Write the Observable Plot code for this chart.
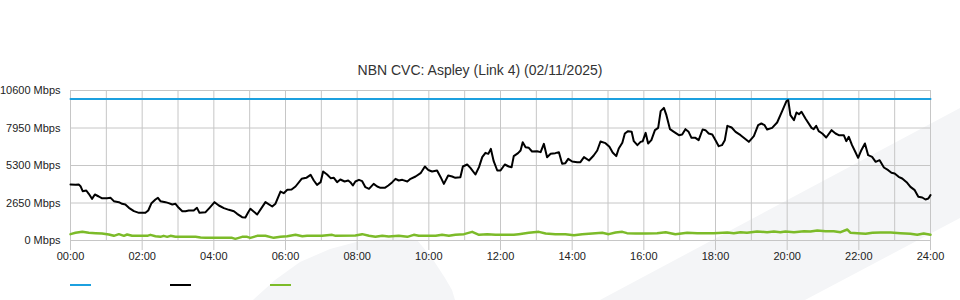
<!DOCTYPE html>
<html>
<head>
<meta charset="utf-8">
<script src="https://cdn.jsdelivr.net/npm/d3@7"></script>
<script src="https://cdn.jsdelivr.net/npm/@observablehq/plot@0.6"></script>
<style>
  html, body { margin: 0; padding: 0; background: #fff; }
  #wrap { position: relative; width: 960px; height: 300px; overflow: hidden; font-family: "Liberation Sans", Arial, sans-serif; }
  .wm { position: absolute; left: 0; top: 0; width: 960px; height: 300px; background: #f4f5f7; }
  #wm1 { clip-path: polygon(600px 300px, 960px 108px, 960px 218px, 805px 300px); }
  #wm2 { clip-path: polygon(253px 300px, 275px 280px, 300px 262px, 330px 249px, 360px 241px, 395px 238px, 417px 240px, 432px 258px, 445px 278px, 452px 290px, 455px 300px); }
  #title { position: absolute; left: 0; top: 62px; width: 960px; text-align: center; font-size: 14px; line-height: 16px; color: #333; }
  #chart { position: absolute; left: 0; top: 80px; }
  #legend { position: absolute; left: 0; top: 284px; width: 960px; height: 4px; }
  .sw { position: absolute; top: 0; width: 21px; height: 2px; }
</style>
</head>
<body>
<div id="wrap">
  <div class="wm" id="wm1"></div>
  <div class="wm" id="wm2"></div>
  <div id="title"></div>
  <div id="chart"></div>
  <div id="legend"></div>
</div>
<script>
const titleText = "NBN CVC: Aspley (Link 4) (02/11/2025)";

// y axis ticks (Mbps)
const yTicks = [0, 2650, 5300, 7950, 10600];
// x axis ticks (hours) and labels
const xTickHours = [0, 2, 4, 6, 8, 10, 12, 14, 16, 18, 20, 22, 24];
const xTickLabels = ["00:00","02:00","04:00","06:00","08:00","10:00","12:00","14:00","16:00","18:00","20:00","22:00","24:00"];

// series colours
const seriesColors = ["#1ca0df", "#000000", "#7cbb29"];

// Capacity (blue)
const capHours = [0, 24];
const capMbps = [10000, 10000];

// Traffic (black)
const blackHours = [
  0.00,0.14,0.23,0.28,0.34,0.44,0.51,0.60,0.68,0.79,0.87,1.02,1.12,1.21,1.35,1.44,1.53,1.63,1.77,1.91,
  2.09,2.17,2.26,2.37,2.44,2.51,2.65,2.74,2.84,2.93,3.02,3.12,3.21,3.30,3.44,3.53,3.60,3.77,3.88,4.02,
  4.14,4.28,4.42,4.56,4.65,4.79,4.88,4.96,5.02,5.21,5.44,5.63,5.72,5.86,5.95,6.05,6.17,6.28,6.45,6.58,
  6.70,6.79,6.88,6.98,7.05,7.16,7.26,7.35,7.44,7.53,7.65,7.75,7.81,7.88,7.95,8.05,8.14,8.23,8.33,8.46,
  8.56,8.65,8.77,8.87,8.98,9.07,9.16,9.26,9.40,9.49,9.63,9.77,9.89,9.98,10.02,10.09,10.23,10.33,10.42,10.54,
  10.65,10.74,10.88,10.95,11.07,11.16,11.30,11.40,11.49,11.58,11.66,11.73,11.81,11.91,12.00,12.12,12.23,12.31,12.37,12.49,
  12.56,12.62,12.70,12.79,12.88,13.02,13.12,13.21,13.30,13.40,13.53,13.63,13.72,13.81,13.89,14.00,14.14,14.23,14.33,14.47,
  14.60,14.70,14.79,14.93,15.04,15.13,15.23,15.30,15.40,15.47,15.56,15.66,15.72,15.82,15.91,15.97,16.05,16.12,16.21,16.31,
  16.40,16.47,16.56,16.63,16.73,16.84,16.98,17.07,17.16,17.25,17.33,17.44,17.53,17.64,17.72,17.81,17.91,18.00,18.09,18.18,
  18.26,18.33,18.45,18.56,18.70,18.93,19.07,19.19,19.28,19.37,19.44,19.58,19.72,19.86,19.98,20.03,20.09,20.19,20.26,20.33,
  20.40,20.51,20.68,20.74,20.81,20.88,20.98,21.09,21.24,21.35,21.44,21.58,21.65,21.72,21.81,21.91,21.98,22.07,22.17,22.26,
  22.37,22.47,22.58,22.70,22.82,22.91,23.00,23.11,23.21,23.35,23.44,23.56,23.66,23.77,23.86,23.94,24.00
];
const blackMbps = [
  3957,3934,3957,3840,3486,3533,3298,2945,3251,3109,2992,2992,3015,2779,2709,2591,2544,2309,2073,1955,
  1955,2120,2638,2897,3015,2779,2709,2638,2544,2591,2309,2073,2073,2120,2120,2309,1955,2002,2309,2709,
  2473,2285,2167,2073,1885,1649,1620,2002,2238,1837,2709,2403,2600,3460,3345,3580,3604,3816,4357,4428,
  4640,4240,3934,4122,4876,4664,4405,4428,4122,4311,4169,4240,4122,3887,4169,4287,4193,3769,3651,4004,
  3816,3722,3722,3887,4122,4357,4240,4287,4169,4357,4523,4758,5229,4994,4947,4876,4947,4476,4004,4593,
  4523,4428,4476,5229,5371,5135,4664,5182,5889,6195,6124,6478,5607,4947,4947,5371,5229,5182,5960,6172,
  6360,6949,6596,6549,6290,6313,6243,6831,5889,6124,6172,6243,5418,5465,5771,5583,5536,5536,5889,5653,
  6007,6360,6996,6879,6619,6219,5960,6501,6902,7561,7726,7679,7019,6737,6972,7019,7608,6855,7090,7797,
  7961,9139,9374,8857,7867,7679,7443,7491,7867,7679,7255,7255,7090,7844,7797,7561,7491,7090,6666,6737,
  7090,8104,7985,7679,7443,6972,7373,8151,8268,8151,7844,7961,8339,9139,9846,9916,8857,8504,9045,8927,
  9092,8621,7961,7867,8104,7726,7561,7279,7797,7561,7443,7443,7019,7326,6737,6219,5842,6384,6855,6030,
  5913,5559,5677,5159,4970,4782,4735,4499,4381,4075,3792,3557,3086,3039,2897,2968,3204
];

// Traffic (green)
const greenHours = [
  0.00,0.14,0.33,0.51,0.70,0.88,1.07,1.21,1.35,1.49,1.58,1.72,1.86,2.14,2.23,2.37,2.51,2.60,2.70,2.79,
  2.93,3.12,3.49,3.63,3.77,4.05,4.51,4.60,4.79,4.93,5.02,5.21,5.44,5.67,5.86,6.05,6.28,6.47,6.60,6.79,
  7.02,7.30,7.40,7.95,8.14,8.33,8.51,8.70,8.88,9.16,9.40,9.58,9.72,9.95,10.19,10.37,10.56,10.74,10.98,11.21,
  11.40,11.63,11.86,12.14,12.37,12.51,12.79,13.07,13.26,13.53,13.81,14.05,14.28,14.56,14.84,15.02,15.21,15.40,15.53,15.77,
  16.05,16.37,16.61,16.88,17.21,17.49,17.95,18.33,18.51,18.70,18.88,19.16,19.44,19.63,19.81,19.95,20.19,20.47,20.65,20.84,
  21.07,21.30,21.49,21.68,21.77,21.96,22.19,22.38,22.61,22.89,23.16,23.44,23.63,23.81,24.00
];
const greenMbps = [
  448,542,612,542,518,495,424,330,448,330,424,330,330,330,400,306,259,330,259,330,
  259,259,259,212,188,188,188,118,259,259,188,330,330,188,259,306,400,306,330,330,
  330,400,330,350,448,330,259,330,282,330,259,400,330,330,330,400,330,400,448,612,
  400,448,400,400,400,448,542,612,495,448,448,377,448,495,542,448,565,612,518,495,
  495,518,589,448,542,518,518,565,518,589,542,636,589,636,589,636,589,659,636,707,
  659,659,589,777,542,518,471,542,565,565,518,471,400,495,400
];

const zip = (hs, vs) => hs.map((h, i) => ({h, v: vs[i]}));
const capData = zip(capHours, capMbps);
const blackData = zip(blackHours, blackMbps);
const greenData = zip(greenHours, greenMbps);
const gridHours = d3.range(0, 25);

document.getElementById("title").textContent = titleText;

const gridColor = "#c6c6c6";
const chart = Plot.plot({
  width: 960,
  height: 185,
  marginLeft: 70,
  marginRight: 30,
  marginTop: 10,
  marginBottom: 25,
  style: {fontFamily: "'Liberation Sans', Arial, sans-serif", fontSize: "11px", color: "#222", background: "transparent", overflow: "visible"},
  x: {domain: [0, 24]},
  y: {domain: [0, 10600]},
  marks: [
    Plot.ruleX(gridHours, {stroke: gridColor, strokeWidth: 1}),
    Plot.ruleY(yTicks, {stroke: gridColor, strokeWidth: 1}),
    Plot.axisX({ticks: xTickHours, tickFormat: d => xTickLabels[xTickHours.indexOf(d)], tickSize: 10, tickPadding: 2, stroke: gridColor, label: null}),
    Plot.axisY({ticks: yTicks, tickFormat: d => d + " Mbps", tickSize: 0, tickPadding: 10, label: null}),
    Plot.line(capData, {x: "h", y: "v", stroke: seriesColors[0], strokeWidth: 2}),
    Plot.line(greenData, {x: "h", y: "v", stroke: seriesColors[2], strokeWidth: 2.5, strokeLinejoin: "round"}),
    Plot.line(blackData, {x: "h", y: "v", stroke: seriesColors[1], strokeWidth: 2, strokeLinejoin: "round"})
  ]
});
document.getElementById("chart").appendChild(chart);

const legend = document.getElementById("legend");
seriesColors.forEach((c, i) => {
  const s = document.createElement("div");
  s.className = "sw";
  s.style.left = (70 + i * 100) + "px";
  s.style.background = c;
  legend.appendChild(s);
});
</script>
</body>
</html>
